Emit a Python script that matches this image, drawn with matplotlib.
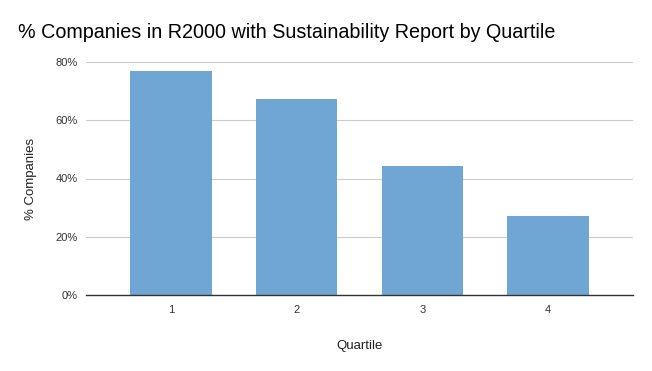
import matplotlib
matplotlib.use("Agg")
import matplotlib.pyplot as plt
from matplotlib.ticker import FuncFormatter

categories = ["1", "2", "3", "4"]
values = [76.8, 67.3, 44.3, 27.1]
yticks = [0, 20, 40, 60, 80]

plt.rcParams['font.family'] = ['Liberation Sans', 'DejaVu Sans']

fig = plt.figure(figsize=(6.52, 3.71), dpi=100)
ax = fig.add_axes([86/652, 1-295/371, (633-86)/652, (295-62)/371])

x = list(range(1, len(categories)+1))
ax.bar(x, values, width=0.65, color="#6fa6d3", zorder=3)
ax.set_xlim(0.325, 4.675)
ax.set_ylim(0, 80)
ax.set_yticks(yticks)
ax.yaxis.set_major_formatter(FuncFormatter(lambda v, p: f"{int(v)}%"))
ax.set_xticks(x)
ax.set_xticklabels(categories)
ax.grid(axis='y', color="#cccccc", linewidth=0.8, zorder=0)
for s in ['top', 'right', 'left']:
    ax.spines[s].set_visible(False)
ax.spines['bottom'].set_color("#333333")
ax.spines['bottom'].set_linewidth(1.0)
ax.spines['bottom'].set_zorder(4)
ax.tick_params(axis='both', length=0, labelsize=8, colors="#333333")
ax.tick_params(axis='x', pad=7)
ax.tick_params(axis='y', pad=6)
ax.set_xlabel("Quartile", fontsize=9.5, color="#222222", labelpad=18)
ax.set_ylabel("% Companies", fontsize=9.5, color="#222222", labelpad=13)
fig.text(18/652, 1-32/371, "% Companies in R2000 with Sustainability Report by Quartile",
         fontsize=14.2, color="#000000", va='center', ha='left')
fig.savefig("out.png", dpi=100)
